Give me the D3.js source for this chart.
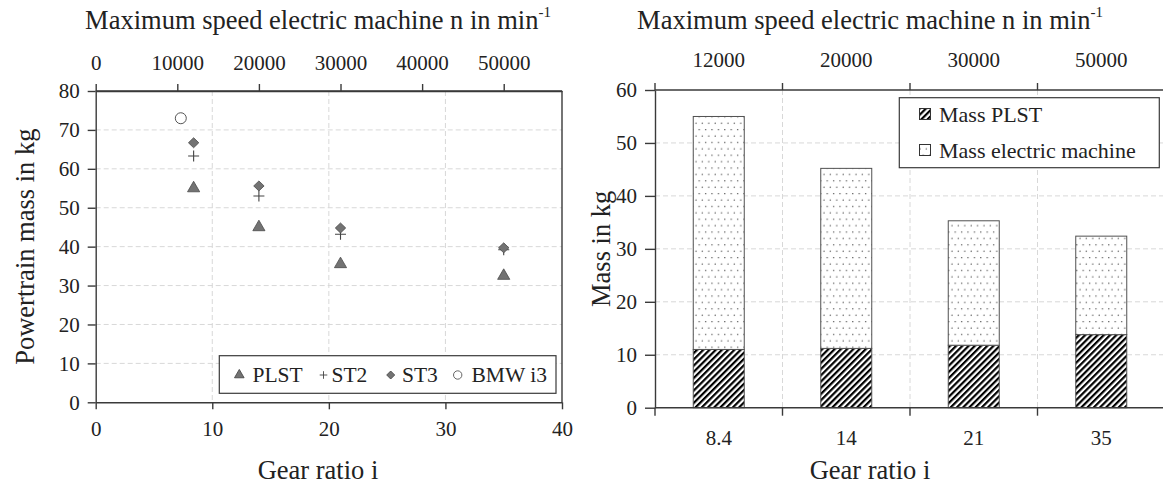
<!DOCTYPE html>
<html>
<head>
<meta charset="utf-8">
<script src="https://cdn.jsdelivr.net/npm/d3@7"></script>
<style>
  body { margin: 0; background: #fff; }
  svg { display: block; font-family: "Liberation Serif", "Times New Roman", serif; }
  .grid line { stroke: #d8d8d8; stroke-dasharray: 5,3; }
  .axis path, .axis line { stroke: #3a3a3a; stroke-width: 1.4; }
  .axis text { font-family: "Liberation Serif", serif; font-size: 21px; fill: #222; }
</style>
</head>
<body>
<svg id="chart" width="1163" height="491"></svg>
<script>
// Left chart: powertrain mass over gear ratio
const gearRatios = [8.4, 14, 21, 35]
const plstMass = [55, 45, 35.5, 32.5]
const st2Mass = [63.3, 53, 43.2, 39.2]
const st3Mass = [66.7, 55.6, 44.8, 39.7]
const bmwRatio = [7.3]
const bmwMass = [73]
const speedTicks = [0, 10000, 20000, 30000, 40000, 50000]

// Right chart: stacked masses
const barLabels = ["8.4", "14", "21", "35"]
const speedLabels = ["12000", "20000", "30000", "50000"]
const massPlst = [11, 11.2, 11.8, 13.8]
const massMachine = [44, 34, 23.5, 18.6]

const svg = d3.select("#chart")
const defs = svg.append("defs")

const hatch = defs.append("pattern")
  .attr("id", "hatch")
  .attr("patternUnits", "userSpaceOnUse")
  .attr("width", 4.4).attr("height", 4.4)
  .attr("patternTransform", "rotate(45)")
hatch.append("rect").attr("width", 4.4).attr("height", 4.4).attr("fill", "#fff")
hatch.append("line").attr("x1", 1.1).attr("y1", 0).attr("x2", 1.1).attr("y2", 4.4)
  .attr("stroke", "#000").attr("stroke-width", 2.2)

const dots = defs.append("pattern")
  .attr("id", "dots")
  .attr("patternUnits", "userSpaceOnUse")
  .attr("width", 6.4).attr("height", 12.8)
dots.append("rect").attr("width", 6.4).attr("height", 12.8).attr("fill", "#fff")
dots.append("circle").attr("cx", 1.6).attr("cy", 1.6).attr("r", 0.7).attr("fill", "#444")
dots.append("circle").attr("cx", 4.8).attr("cy", 8).attr("r", 0.7).attr("fill", "#444")

const axisTitle = (x, y, text, rotate) => {
  const t = svg.append("text")
    .attr("text-anchor", "middle")
    .attr("dominant-baseline", "central")
    .style("font-size", "26.5px")
    .style("fill", "#222")
  if (rotate) t.attr("transform", `translate(${x},${y}) rotate(-90)`)
  else t.attr("x", x).attr("y", y)
  t.text(text)
  return t
}

const topTitle = (x) => {
  const t = axisTitle(x, 20, "Maximum speed electric machine n in min")
  t.append("tspan").attr("dy", -8).style("font-size", "15px").text("-1")
}

// ---------- left chart ----------
const L = {left: 95.7, right: 562, top: 91, bottom: 402.3}
const x = d3.scaleLinear().domain([0, 40]).range([L.left, L.right])
const xTop = d3.scaleLinear().domain([0, 40 * 12000 / 8.4]).range([L.left, L.right])
const y = d3.scaleLinear().domain([0, 80]).range([L.bottom, L.top])

const gL = svg.append("g")
gL.append("g").attr("class", "grid")
  .selectAll("line").data([10, 20, 30, 40, 50, 60, 70]).join("line")
  .attr("x1", L.left).attr("x2", L.right)
  .attr("y1", d => y(d)).attr("y2", d => y(d))
gL.append("g").attr("class", "grid")
  .selectAll("line").data([10, 20, 30]).join("line")
  .attr("x1", d => x(d)).attr("x2", d => x(d))
  .attr("y1", L.top).attr("y2", L.bottom)

gL.append("g").attr("class", "axis")
  .attr("transform", `translate(0,${L.bottom})`)
  .call(d3.axisBottom(x).tickValues([0, 10, 20, 30, 40]).tickSize(7).tickSizeOuter(0).tickPadding(12))
gL.append("g").attr("class", "axis")
  .attr("transform", `translate(${L.left},0)`)
  .call(d3.axisLeft(y).tickValues(d3.range(0, 81, 10)).tickSize(8).tickSizeOuter(0).tickPadding(8))
gL.append("g").attr("class", "axis")
  .attr("transform", `translate(0,${L.top})`)
  .call(d3.axisTop(xTop).tickValues(speedTicks).tickFormat(d3.format("d")).tickSize(7).tickSizeOuter(0).tickPadding(14))
gL.append("line")
  .attr("x1", L.right).attr("x2", L.right).attr("y1", L.top).attr("y2", L.bottom)
  .attr("stroke", "#3a3a3a").attr("stroke-width", 1.4)
gL.append("line")
  .attr("x1", L.left).attr("x2", L.right).attr("y1", L.top).attr("y2", L.top)
  .attr("stroke", "#3a3a3a").attr("stroke-width", 1.4)

const triangle = d3.symbol().type(d3.symbolTriangle).size(64)
const diamondPath = (w, h) => `M0,${-h}L${w},0L0,${h}L${-w},0Z`
const plusPath = (s) => `M${-s},0H${s}M0,${-s}V${s}`

const drawMarks = (g, xs, ys, kind) => {
  const sel = g.selectAll(null).data(xs.map((d, i) => [d, ys[i]])).join("path")
    .attr("transform", d => `translate(${x(d[0])},${y(d[1])})`)
  if (kind === "tri") sel.attr("d", triangle()).attr("fill", "#737373").attr("stroke", "#4a4a4a").attr("stroke-width", 0.8)
  if (kind === "plus") sel.attr("d", plusPath(5.5)).attr("fill", "none").attr("stroke", "#444").attr("stroke-width", 1.1)
  if (kind === "dia") sel.attr("d", diamondPath(5.2, 5)).attr("fill", "#737373").attr("stroke", "#4a4a4a").attr("stroke-width", 0.8)
  if (kind === "circ") sel.attr("d", d3.symbol().type(d3.symbolCircle).size(95)()).attr("fill", "#fff").attr("stroke", "#555").attr("stroke-width", 1)
}
const marks = gL.append("g")
drawMarks(marks, gearRatios, st2Mass, "plus")
drawMarks(marks, gearRatios, st3Mass, "dia")
drawMarks(marks, gearRatios, plstMass, "tri")
drawMarks(marks, bmwRatio, bmwMass, "circ")

// legend
const legL = gL.append("g")
legL.append("rect").attr("x", 219.3).attr("y", 355.7).attr("width", 336.7).attr("height", 37.6)
  .attr("fill", "#fff").attr("stroke", "#3a3a3a").attr("stroke-width", 1.2)
const legItems = [
  {name: "PLST", sx: 239.3, tx: 252.5, d: d3.symbol().type(d3.symbolTriangle).size(40)(), fill: "#737373", stroke: "#4a4a4a"},
  {name: "ST2", sx: 323.5, tx: 331.5, d: plusPath(3.8), fill: "none", stroke: "#444"},
  {name: "ST3", sx: 390.7, tx: 402, d: diamondPath(4, 4), fill: "#737373", stroke: "#4a4a4a"},
  {name: "BMW i3", sx: 457.7, tx: 471.5, d: d3.symbol().type(d3.symbolCircle).size(55)(), fill: "#fff", stroke: "#555"}
]
legItems.forEach(it => {
  legL.append("path").attr("d", it.d).attr("transform", `translate(${it.sx},375)`)
    .attr("fill", it.fill).attr("stroke", it.stroke).attr("stroke-width", 0.9)
  legL.append("text").attr("x", it.tx).attr("y", 375).attr("dominant-baseline", "central")
    .style("font-size", "21.5px").style("fill", "#222").text(it.name)
})

axisTitle(25, (L.top + L.bottom) / 2, "Powertrain mass in kg", true)
axisTitle(318, 470, "Gear ratio i")
topTitle(318)

// ---------- right chart ----------
const R = {left: 655, right: 1165, top: 90, bottom: 407.7}
const xb = d3.scaleBand().domain(barLabels).range([R.left, R.right])
const xbTop = d3.scaleBand().domain(speedLabels).range([R.left, R.right])
const yb = d3.scaleLinear().domain([0, 60]).range([R.bottom, R.top])

const gR = svg.append("g")
gR.append("g").attr("class", "grid")
  .selectAll("line").data([10, 20, 30, 40, 50]).join("line")
  .attr("x1", R.left).attr("x2", R.right)
  .attr("y1", d => yb(d)).attr("y2", d => yb(d))
gR.append("g").attr("class", "grid")
  .selectAll("line").data(barLabels.slice(1)).join("line")
  .attr("x1", d => xb(d)).attr("x2", d => xb(d))
  .attr("y1", R.top).attr("y2", R.bottom)

const stackData = barLabels.map((d, i) => ({label: d, plst: massPlst[i], machine: massMachine[i]}))
const series = d3.stack().keys(["plst", "machine"])(stackData)
const barW = xb.bandwidth() * 0.4
gR.append("g").selectAll("g").data(series).join("g")
  .attr("fill", d => d.key === "plst" ? "url(#hatch)" : "url(#dots)")
  .selectAll("rect").data(d => d).join("rect")
  .attr("x", d => xb(d.data.label) + (xb.bandwidth() - barW) / 2)
  .attr("width", barW)
  .attr("y", d => yb(d[1]))
  .attr("height", d => yb(d[0]) - yb(d[1]))
  .attr("stroke", "#505050").attr("stroke-width", 1)

// band boundary ticks
const bandEdges = barLabels.map(d => xb(d))
gR.append("g").attr("class", "axis")
  .attr("transform", `translate(0,${R.bottom})`)
  .call(d3.axisBottom(xb).tickSize(0).tickPadding(22))
  .call(g => g.select(".domain").attr("d", `M${R.left},0H${R.right}`))
  .call(g => g.selectAll(".edge").data(bandEdges).join("line").attr("class", "edge")
    .attr("x1", d => d).attr("x2", d => d).attr("y1", 0).attr("y2", 8))
gR.append("g").attr("class", "axis")
  .attr("transform", `translate(0,${R.top})`)
  .call(d3.axisTop(xbTop).tickSize(0).tickPadding(23))
  .call(g => g.select(".domain").attr("d", `M${R.left},0H${R.right}`))
  .call(g => g.selectAll(".edge").data(bandEdges).join("line").attr("class", "edge")
    .attr("x1", d => d).attr("x2", d => d).attr("y1", 0).attr("y2", -7))
gR.append("g").attr("class", "axis")
  .attr("transform", `translate(${R.left},0)`)
  .call(d3.axisLeft(yb).tickValues(d3.range(0, 61, 10)).tickSize(10).tickSizeOuter(0).tickPadding(8))

// legend
const legR = gR.append("g")
legR.append("rect").attr("x", 899.3).attr("y", 97.7).attr("width", 260).attr("height", 70)
  .attr("fill", "#fff").attr("stroke", "#3a3a3a").attr("stroke-width", 1.2)
const legBars = [
  {name: "Mass PLST", fill: "url(#hatch)", y: 114},
  {name: "Mass electric machine", fill: "url(#dots)", y: 150}
]
legBars.forEach(it => {
  legR.append("rect").attr("x", 919.5).attr("y", it.y - 5.5).attr("width", 11).attr("height", 11)
    .attr("fill", it.fill).attr("stroke", "#333").attr("stroke-width", 1)
  legR.append("text").attr("x", 939).attr("y", it.y).attr("dominant-baseline", "central")
    .style("font-size", "22px").style("fill", "#222").text(it.name)
})

axisTitle(601, (R.top + R.bottom) / 2, "Mass in kg", true)
axisTitle(870, 470, "Gear ratio i")
topTitle(870)
</script>
</body>
</html>
